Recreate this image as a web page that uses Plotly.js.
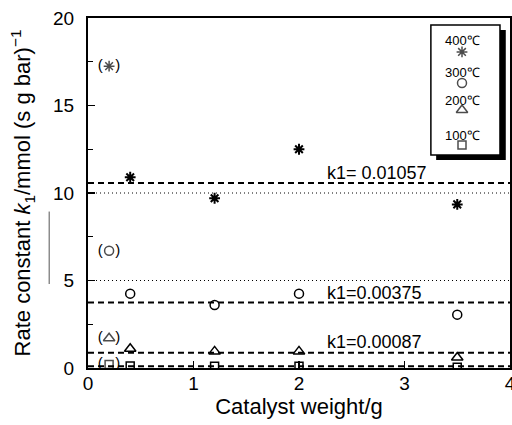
<!DOCTYPE html>
<html>
<head>
<meta charset="utf-8">
<script src="https://cdn.plot.ly/plotly-3.0.1.min.js"></script>
<style>html,body{margin:0;padding:0;background:#fff;}#chart{width:512px;height:425px;}</style>
</head>
<body>
<div id="chart"></div>
<script>
// ---- data ----
const weights = [0.4, 1.2, 2.0, 3.5];
const k400 = [10.9, 9.7, 12.5, 9.35];
const k300 = [4.25, 3.6, 4.25, 3.05];
const k200 = [1.1, 0.95, 0.95, 0.6];
const k100 = [0.12, 0.1, 0.1, 0.05];
const parenWeight = 0.2;
const parenValues = [17.25, 6.7, 1.7, 0.2];
const fitValues = [10.57, 3.75, 0.87, 0.1];
const fitLabels = ["k1= 0.01057", "k1=0.00375", "k1=0.00087"];
const dottedValues = [10, 5];
const tempLabels = ["400℃", "300℃", "200℃", "100℃"];
const xRange = [0, 4];
const yRange = [0, 20];

const symbols = ["asterisk-open", "circle-open", "triangle-up-open", "square-open"];
const sizes = [9, 9, 10, 8];
const series = [k400, k300, k200, k100];
const font = "Liberation Sans, Arial, Helvetica, sans-serif";

const traces = [];
// reference lines
fitValues.forEach(v => traces.push({x: xRange, y: [v, v], mode: "lines", showlegend: false, hoverinfo: "skip",
  line: {color: "#000", width: 2, dash: "6px,4px"}}));
dottedValues.forEach(v => traces.push({x: xRange, y: [v, v], mode: "lines", showlegend: false, hoverinfo: "skip",
  line: {color: "#000", width: 1, dash: "1px,3px"}}));
// data series
series.forEach((s, i) => traces.push({x: weights, y: s, mode: "markers", name: tempLabels[i], showlegend: false,
  marker: {symbol: symbols[i], size: sizes[i], color: "#000", line: {color: "#000", width: i === 0 ? 2 : 1.5}}}));
// parenthesized points
traces.push({x: parenValues.map(() => parenWeight), y: parenValues, mode: "markers+text", showlegend: false,
  text: parenValues.map(() => "(   )"), textposition: "middle center",
  textfont: {family: font, size: 15, color: "#000"},
  marker: {symbol: symbols, size: sizes, color: "#000", line: {color: "#000", width: 1.5}}});

// legend (custom, text above symbol)
const legX = 3.545;
const legTextY = [18.74, 16.9, 15.31, 13.31];
const legSymY = [18.06, 16.29, 14.74, 12.74];
traces.push({x: legSymY.map(() => legX), y: legSymY, mode: "markers", showlegend: false, hoverinfo: "skip",
  marker: {symbol: symbols, size: [9, 9, 10, 8], color: "#000", line: {color: "#000", width: 1.5}}});

const annotations = [];
const fitLabelY = [11.14, 4.29, 1.49];
fitLabels.forEach((t, i) => annotations.push({x: 2.25, y: fitLabelY[i], xref: "x", yref: "y", text: t,
  showarrow: false, xanchor: "left", yanchor: "middle", font: {family: font, size: 18, color: "#000"}}));
tempLabels.forEach((t, i) => annotations.push({x: legX, y: legTextY[i], xref: "x", yref: "y", text: t,
  showarrow: false, xanchor: "center", yanchor: "middle", font: {family: font, size: 13, color: "#000"}}));

const layout = {
  width: 512, height: 425,
  margin: {l: 88, r: 2, t: 18, b: 57},
  paper_bgcolor: "#fff", plot_bgcolor: "#fff",
  font: {family: font, color: "#000"},
  xaxis: {range: xRange, dtick: 1, tick0: 0, ticks: "inside", ticklen: 7, tickwidth: 1.5, tickcolor: "#000",
    showline: true, linewidth: 2, linecolor: "#000", mirror: true, showgrid: false, zeroline: false,
    tickfont: {family: font, size: 19}, ticklabelstandoff: -3, ticklabeloverflow: "allow",
    title: {text: "Catalyst weight/g", font: {family: font, size: 22}, standoff: 0}},
  yaxis: {range: yRange, dtick: 5, tick0: 0, ticks: "inside", ticklen: 7, tickwidth: 1.5, tickcolor: "#000",
    minor: {dtick: 2.5, ticks: "inside", ticklen: 5, tickcolor: "#000", tickwidth: 1},
    showline: true, linewidth: 2, linecolor: "#000", mirror: true, showgrid: false, zeroline: false,
    tickfont: {family: font, size: 19}, ticklabelstandoff: 8,
    title: {text: "Rate constant <i>k</i><sub>1</sub>/mmol (s g bar)<sup>−1</sup>", font: {family: font, size: 22}, standoff: 16}},
  shapes: [
    {type: "rect", xref: "x", yref: "y", x0: 3.30, x1: 3.96, y0: 11.89, y1: 19.31, fillcolor: "#000", line: {width: 0}, layer: "below"},
    {type: "rect", xref: "x", yref: "y", x0: 3.25, x1: 3.905, y0: 12.17, y1: 19.6, fillcolor: "#fff", line: {color: "#000", width: 1.5}, layer: "below"},
    {type: "line", xref: "paper", yref: "paper", x0: -0.092, x1: -0.092, y0: 0.24, y1: 0.447, line: {color: "#555", width: 1}}
  ],
  annotations: annotations
};

Plotly.newPlot("chart", traces, layout, {displayModeBar: false, staticPlot: true});
</script>
</body>
</html>
